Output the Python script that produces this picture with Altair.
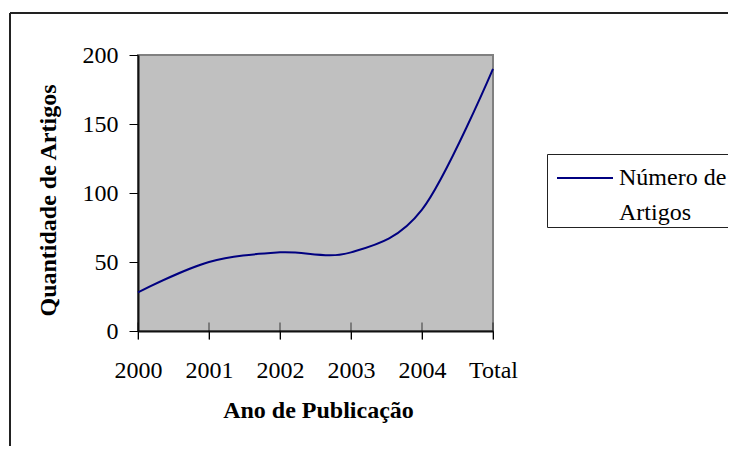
import altair as alt
import pandas as pd

categorias = ["2000", "2001", "2002", "2003", "2004", "Total"]
artigos = [28, 50, 57, 57, 88, 190]
serie = "Número de Artigos"
y_ticks = [0, 50, 100, 150, 200]

FONT = "Liberation Serif"

df = pd.DataFrame({"ano": categorias, "valor": artigos, "serie": [serie] * len(categorias)})

x_axis = alt.Axis(
    title="Ano de Publicação",
    labelAngle=0,
    labelFont=FONT,
    labelFontSize=24,
    labelColor="black",
    labelBaseline="alphabetic",
    labelPadding=38,
    tickSize=8,
    tickColor="black",
    tickWidth=1,
    domainColor="#111",
    domainWidth=2,
    titleFont=FONT,
    titleFontSize=24,
    titleFontWeight="bold",
    titleColor="black",
    titleBaseline="alphabetic",
    titleX=180,
    titleY=86,
    grid=False,
)

y_axis = alt.Axis(
    title="Quantidade de Artigos",
    values=y_ticks,
    labelFont=FONT,
    labelFontSize=24,
    labelColor="black",
    labelAlign="right",
    labelBaseline="middle",
    labelPadding=11,
    tickSize=9,
    tickColor="black",
    tickWidth=1,
    domainColor="#111",
    domainWidth=2,
    titleFont=FONT,
    titleFontSize=24,
    titleFontWeight="bold",
    titleColor="black",
    titleAngle=270,
    titleAlign="center",
    titleBaseline="alphabetic",
    titleX=-83,
    titleY=145,
    grid=False,
)

x_enc = alt.X("ano:O", sort=categorias, scale=alt.Scale(type="point", padding=0), axis=x_axis)
y_enc = alt.Y("valor:Q", scale=alt.Scale(domain=[0, 200], nice=False), axis=y_axis)

linha = alt.Chart(df).mark_line(interpolate="cardinal", strokeWidth=2).encode(
    x=x_enc,
    y=y_enc,
    color=alt.Color(
        "serie:N",
        scale=alt.Scale(range=["#000080"]),
        legend=alt.Legend(
            title=None,
            orient="none",
            legendX=409,
            legendY=99,
            symbolType="M-1,-0.25H1",
            symbolSize=3136,
            symbolStrokeWidth=2,
            symbolOffset=7,
            labelFont=FONT,
            labelFontSize=24,
            labelColor="black",
            labelBaseline="alphabetic",
            labelExpr="['Número de', 'Artigos']",
            labelOffset=5,
            strokeColor="#222",
            fillColor="white",
            padding=2,
        ),
    ),
)

# inner half of the x-axis ticks (Excel draws them crossing the axis)
marcas = alt.Chart(df).mark_tick(orient="vertical", color="black", thickness=1, size=17).encode(
    x=alt.X("ano:O", sort=categorias, scale=alt.Scale(type="point", padding=0), axis=x_axis),
    y=alt.Y("valor:Q", scale=alt.Scale(domain=[0, 200], nice=False), axis=y_axis),
).transform_calculate(valor="0")

frame_data = pd.DataFrame({"k": [0]})
borda_esq = alt.Chart(frame_data).mark_rule(color="#222", strokeWidth=2).encode(
    x=alt.value(-128), y=alt.value(-42), y2=alt.value(391)
)
borda_top = alt.Chart(frame_data).mark_rule(color="#222", strokeWidth=2).encode(
    x=alt.value(-128), x2=alt.value(590), y=alt.value(-42)
)

chart = alt.layer(linha, marcas, borda_esq, borda_top).properties(
    width=355,
    height=276,
    autosize=alt.AutoSizeParams(type="none"),
    padding={"left": 130, "top": 47, "right": 235, "bottom": 115},
    background="white",
).configure(
    style={"guide-label": {"lineHeight": 35}},
    view=alt.ViewConfig(fill="#C0C0C0", stroke="#808080", strokeWidth=2),
)

chart.save("out.html", embed_options={"renderer": "svg", "actions": False})
